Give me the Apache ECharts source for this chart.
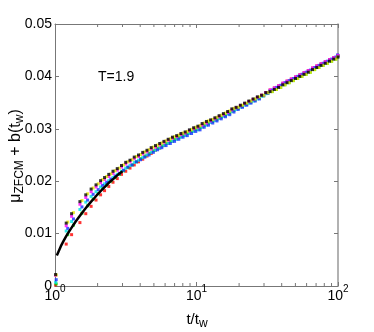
<!DOCTYPE html>
<html><head><meta charset="utf-8">
<script src="https://cdn.jsdelivr.net/npm/echarts@6/dist/echarts.min.js"></script>
<style>html,body{margin:0;padding:0;background:#fff}#c{width:374px;height:332px}</style>
</head><body><div id="c"></div>
<script>
// ---- data ----
const tGridA = [1.01, 1.2, 1.31, 1.5, 1.65, 1.8, 1.95, 2.1, 2.24,
  2.399, 2.570, 2.754, 2.951, 3.162, 3.388, 3.631, 3.890, 4.169,
  4.467, 4.786, 5.129, 5.495, 5.888, 6.310, 6.761, 7.244, 7.762, 8.318, 8.913, 9.550, 10.23,
  10.96, 11.75, 12.59, 13.49, 14.45, 15.49, 16.60, 17.78, 19.05, 20.42, 21.88, 23.44, 25.12, 26.92, 28.84, 30.90,
  33.11, 35.48, 38.02, 40.74, 43.65, 46.77, 50.12, 53.70, 57.54, 61.66, 66.07, 70.79, 75.86, 81.28, 87.10, 93.33, 100];
const tGridB = [1.02, 1.23, 1.35, 1.55, 1.7, 1.86, 2.02, 2.17, 2.32,
  2.483, 2.660, 2.851, 3.055, 3.273, 3.507, 3.758, 4.027, 4.315,
  4.624, 4.954, 5.309, 5.688, 6.095, 6.531, 6.998, 7.498, 8.034, 8.610, 9.226, 9.885, 10.59,
  11.34, 12.16, 13.03, 13.96, 14.96, 16.03, 17.18, 18.40, 19.72, 21.14, 22.65, 24.26, 26.00, 27.86, 29.85, 31.98,
  34.27, 36.73, 39.35, 42.17, 45.18, 48.41, 51.88, 55.58, 59.56, 63.82, 68.39, 73.27, 78.52, 84.13, 90.16, 96.61, 99.3];

const blackVals = [0.0022, 0.0120, 0.0138, 0.0161, 0.0174, 0.0185, 0.0193, 0.0201, 0.0207,
  0.0213, 0.0219, 0.0224, 0.0230, 0.0236, 0.0240, 0.0246, 0.0250, 0.0255,
  0.0259, 0.0264, 0.0268, 0.0272, 0.0276, 0.0280, 0.0284, 0.0287, 0.0291, 0.0294, 0.0298, 0.0302, 0.0305,
  0.0310, 0.0314, 0.0317, 0.0321, 0.0325, 0.0329, 0.0333, 0.0338, 0.0341, 0.0345, 0.0349, 0.0353, 0.0357, 0.0361, 0.0364, 0.0369,
  0.0371, 0.0375, 0.0379, 0.0384, 0.0388, 0.0392, 0.0396, 0.0400, 0.0404, 0.0408, 0.0413, 0.0417, 0.0421, 0.0425, 0.0429, 0.0433, 0.0437];
const yellowVals = [0.0021, 0.0122, 0.0140, 0.0163, 0.0176, 0.0187, 0.0195, 0.0203, 0.0209,
  0.0214, 0.0220, 0.0225, 0.0231, 0.0237, 0.0241, 0.0247, 0.0251, 0.0256,
  0.0260, 0.0265, 0.0269, 0.0273, 0.0277, 0.0281, 0.0285, 0.0288, 0.0292, 0.0295, 0.0299, 0.0303, 0.0306,
  0.0311, 0.0315, 0.0318, 0.0322, 0.0326, 0.0330, 0.0334, 0.0339, 0.0341, 0.0345, 0.0349, 0.0353, 0.0357, 0.0361, 0.0364, 0.0369,
  0.0371, 0.0375, 0.0379, 0.0384, 0.0388, 0.0392, 0.0396, 0.0400, 0.0404, 0.0408, 0.0413, 0.0417, 0.0421, 0.0425, 0.0429, 0.0433, 0.0437];
const magentaVals = [0.0020, 0.0115, 0.0133, 0.0156, 0.0169, 0.0180, 0.0189, 0.0197, 0.0203,
  0.0209, 0.0215, 0.0221, 0.0227, 0.0233, 0.0237, 0.0243, 0.0247, 0.0252,
  0.0256, 0.0261, 0.0265, 0.0269, 0.0274, 0.0278, 0.0282, 0.0285, 0.0289, 0.0292, 0.0296, 0.0300, 0.0303,
  0.0307, 0.0311, 0.0315, 0.0319, 0.0323, 0.0327, 0.0331, 0.0336, 0.0340, 0.0344, 0.0348, 0.0352, 0.0356, 0.0360, 0.0364, 0.0369,
  0.0374, 0.0378, 0.0382, 0.0387, 0.0391, 0.0395, 0.0399, 0.0403, 0.0407, 0.0411, 0.0416, 0.0420, 0.0424, 0.0428, 0.0432, 0.0436, 0.0440];
const blueVals = [0.0012, 0.0110, 0.0128, 0.0151, 0.0164, 0.0175, 0.0184, 0.0192, 0.0198,
  0.0204, 0.0210, 0.0215, 0.0221, 0.0227, 0.0231, 0.0237, 0.0241, 0.0246,
  0.0250, 0.0255, 0.0260, 0.0264, 0.0268, 0.0272, 0.0276, 0.0280, 0.0284, 0.0287, 0.0291, 0.0295, 0.0298,
  0.0303, 0.0307, 0.0311, 0.0315, 0.0319, 0.0323, 0.0327, 0.0332, 0.0337, 0.0341, 0.0345, 0.0349, 0.0353, 0.0357, 0.0363, 0.0368,
  0.0374, 0.0379, 0.0383, 0.0388, 0.0392, 0.0396, 0.0400, 0.0404, 0.0408, 0.0412, 0.0417, 0.0421, 0.0425, 0.0429, 0.0433, 0.0437, 0.0441];
const cyanVals = [0.0007, 0.0105, 0.0123, 0.0146, 0.0160, 0.0171, 0.0180, 0.0189, 0.0195,
  0.0201, 0.0207, 0.0213, 0.0219, 0.0225, 0.0230, 0.0236, 0.0240, 0.0245,
  0.0250, 0.0255, 0.0259, 0.0263, 0.0268, 0.0272, 0.0276, 0.0280, 0.0284, 0.0287, 0.0291, 0.0295, 0.0298,
  0.0303, 0.0307, 0.0312, 0.0316, 0.0320, 0.0324, 0.0328, 0.0333, 0.0337, 0.0341, 0.0345, 0.0349, 0.0353, 0.0357, 0.0362, 0.0367,
  0.0373, 0.0377, 0.0381, 0.0386, 0.0390, 0.0394, 0.0398, 0.0402, 0.0406, 0.0410, 0.0415, 0.0419, 0.0423, 0.0427, 0.0431, 0.0435, 0.0439];
const greenVals = [0.0004, 0.0098, 0.0116, 0.0139, 0.0153, 0.0166, 0.0176, 0.0186, 0.0193,
  0.0200, 0.0207, 0.0213, 0.0220, 0.0226, 0.0231, 0.0237, 0.0243, 0.0248,
  0.0253, 0.0258, 0.0263, 0.0267, 0.0272, 0.0276, 0.0280, 0.0284, 0.0288, 0.0291, 0.0295, 0.0299, 0.0302,
  0.0307, 0.0311, 0.0314, 0.0318, 0.0322, 0.0326, 0.0330, 0.0335, 0.0339, 0.0343, 0.0347, 0.0351, 0.0355, 0.0359, 0.0363, 0.0368,
  0.0371, 0.0375, 0.0379, 0.0384, 0.0388, 0.0392, 0.0396, 0.0400, 0.0404, 0.0408, 0.0413, 0.0417, 0.0421, 0.0425, 0.0429, 0.0433, 0.0437];
const redVals = [0.0002, 0.0080, 0.0098, 0.0121, 0.0138, 0.0152, 0.0164, 0.0174, 0.0182,
  0.0190, 0.0198, 0.0205, 0.0213, 0.0219, 0.0225, 0.0231, 0.0237, 0.0242,
  0.0248, 0.0253, 0.0259, 0.0263, 0.0268, 0.0272, 0.0276, 0.0281, 0.0285, 0.0288, 0.0292, 0.0296, 0.0299,
  0.0304, 0.0308, 0.0313, 0.0317, 0.0321, 0.0325, 0.0329, 0.0334, 0.0339, 0.0343, 0.0347, 0.0351, 0.0355, 0.0359, 0.0364, 0.0369,
  0.0374, 0.0378, 0.0382, 0.0387, 0.0391, 0.0395, 0.0399, 0.0403, 0.0407, 0.0411, 0.0416, 0.0420, 0.0424, 0.0428, 0.0432, 0.0436, 0.0440];

const lineT = [1.03, 1.06, 1.1, 1.15, 1.2, 1.25, 1.3, 1.4, 1.5, 1.6, 1.7, 1.8, 1.9, 2.0, 2.1, 2.25, 2.4, 2.6, 2.8, 3.0];
const lineVals = [0.0058, 0.0066, 0.0076, 0.0086, 0.0095, 0.0103, 0.0110, 0.0123, 0.0134, 0.0144, 0.0153, 0.0161, 0.0168, 0.0175, 0.0181, 0.0189, 0.0197, 0.0205, 0.0213, 0.0219];

const xMinorTicks = [2, 3, 4, 5, 6, 7, 8, 9, 20, 30, 40, 50, 60, 70, 80, 90];
const annotation = 'T=1.9';

// ---- chart ----
const FONT = "'Liberation Sans', Arial, Helvetica, sans-serif";
const pair = (ts, vs) => ts.map((t, i) => [t, vs[i]]);
const dots = (name, color, ts, vs) => ({
  name, type: 'scatter', symbol: 'rect', symbolSize: 3,
  data: pair(ts, vs), itemStyle: { color }, silent: true, animation: false
});
const axisLineStyle = { color: '#777', width: 1 };

const chart = echarts.init(document.getElementById('c'), null, { renderer: 'canvas' });
chart.setOption({
  animation: false,
  backgroundColor: '#fff',
  grid: { left: 55, right: 36, top: 24, bottom: 46, outerBoundsMode: 'none', containLabel: false },
  xAxis: [{
    type: 'log', logBase: 10, min: 1, max: 100,
    axisLine: { show: true, onZero: false, lineStyle: axisLineStyle },
    axisTick: { show: true, inside: true, length: 4, lineStyle: { color: '#777' } },
    splitLine: { show: false },
    axisLabel: {
      margin: -2, color: '#000', fontFamily: FONT,
      formatter: v => '{b|10}{s|' + Math.round(Math.log10(v)) + '}',
      rich: {
        b: { fontSize: 14, fontFamily: FONT, color: '#000', padding: [5, 0, 0, 0] },
        s: { fontSize: 10, fontFamily: FONT, color: '#000', verticalAlign: 'top' }
      }
    }
  }, {
    type: 'log', logBase: 10, min: 1, max: 100, position: 'top',
    axisLine: { show: true, onZero: false, lineStyle: axisLineStyle },
    axisTick: { show: true, inside: true, length: 4, lineStyle: { color: '#777' } },
    axisLabel: { show: false }, splitLine: { show: false }
  }],
  yAxis: [{
    type: 'value', min: 0, max: 0.05, interval: 0.01,
    axisLine: { show: true, onZero: false, lineStyle: axisLineStyle },
    axisTick: { show: true, inside: true, length: 4, lineStyle: { color: '#777' } },
    splitLine: { show: false },
    axisLabel: {
      margin: 3, color: '#000', fontSize: 14, fontFamily: FONT,
      formatter: v => v === 0 ? '0' : v.toFixed(2)
    }
  }, {
    type: 'value', min: 0, max: 0.05, interval: 0.01, position: 'right',
    axisLine: { show: true, onZero: false, lineStyle: { color: '#999', width: 1.5 } },
    axisTick: { show: true, inside: true, length: 4, lineStyle: { color: '#777' } },
    axisLabel: { show: false }, splitLine: { show: false }
  }],
  graphic: [
    { type: 'text', x: 16, y: 156, rotation: Math.PI / 2,
      style: { text: '{m|μ}{s|ZFCM}{m| + b(t}{s|w}{m|)}', align: 'center', verticalAlign: 'middle',
        rich: { m: { fontSize: 16, fontFamily: FONT, fill: '#000' },
                s: { fontSize: 12, fontFamily: FONT, fill: '#000', padding: [7, 0, 0, 0] } } } },
    { type: 'text', x: 197, y: 320,
      style: { text: '{a|t/t}{s|w}', align: 'center', verticalAlign: 'middle',
        rich: { a: { fontSize: 15, fontFamily: FONT, fill: '#000' },
                s: { fontSize: 12, fontFamily: FONT, fill: '#000', padding: [7, 0, 0, 0] } } } },
    { type: 'text', x: 98, y: 77,
      style: { text: annotation, fontSize: 14, fontFamily: FONT, fill: '#000', align: 'left', verticalAlign: 'middle' } }
  ],
  series: [
    {
      type: 'custom', xAxisIndex: 0, yAxisIndex: 0, silent: true, clip: false,
      data: xMinorTicks.map(v => [v, 0]),
      encode: { x: 0, y: 1 },
      renderItem: (params, api) => {
        const x = api.coord([api.value(0), 0])[0];
        const yb = api.coord([1, 0])[1];
        const yt = api.coord([1, 0.05])[1];
        return { type: 'group', children: [
          { type: 'line', shape: { x1: x, y1: yb, x2: x, y2: yb - 3 }, style: { stroke: '#777', lineWidth: 1 } },
          { type: 'line', shape: { x1: x, y1: yt, x2: x, y2: yt + 3 }, style: { stroke: '#777', lineWidth: 1 } }
        ] };
      }
    },
    dots('red', '#ff0000', tGridA, redVals),
    dots('green', '#00e000', tGridB, greenVals),
    dots('cyan', '#00e5e5', tGridA, cyanVals),
    dots('blue', '#1030ff', tGridB, blueVals),
    dots('magenta', '#ff00ff', tGridA, magentaVals),
    dots('yellow', '#e8e800', tGridB, yellowVals),
    dots('black', '#000000', tGridA, blackVals),
    {
      name: 'black line', type: 'line', data: pair(lineT, lineVals), showSymbol: false,
      lineStyle: { color: '#000', width: 2.5 }, silent: true, animation: false, z: 5
    }
  ]
});
</script></body></html>
